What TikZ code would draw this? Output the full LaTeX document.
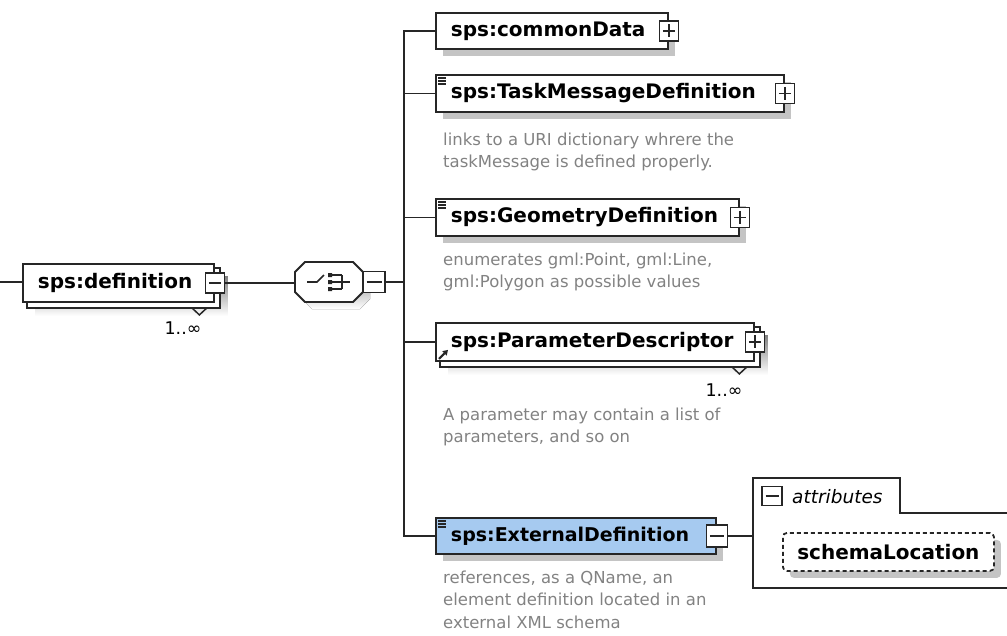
\documentclass[tikz,border=0pt]{standalone}
\usepackage{fontspec}
\setmainfont{DejaVu Sans}
\usetikzlibrary{backgrounds,shadows,arrows.meta}
\hyphenpenalty=10000
\exhyphenpenalty=10000
\definecolor{edgec}{RGB}{38,38,38}
\definecolor{shade}{RGB}{196,196,196}
\definecolor{desc}{RGB}{130,130,130}
\definecolor{selblue}{RGB}{166,202,240}
\tikzset{
  elem/.style={draw=edgec, line width=1.9pt, fill=white, anchor=north west,
    inner xsep=15pt, inner ysep=0pt, align=left,
    font=\fontsize{20}{22}\selectfont\bfseries},
  shad/.style={drop shadow={shadow xshift=7pt, shadow yshift=-7pt, fill=shade, opacity=1}},
  backbox/.style={draw=edgec, line width=1.9pt, fill=white},
  pmbox/.style={draw=edgec, line width=1.6pt, fill=white, minimum width=19pt, minimum height=20pt, inner sep=0pt},
  plusbox/.style={pmbox, path picture={
     \draw[edgec, line width=1.5pt] ([xshift=3.5pt]path picture bounding box.west) -- ([xshift=-3.5pt]path picture bounding box.east);
     \draw[edgec, line width=1.5pt] ([yshift=-3.5pt]path picture bounding box.north) -- ([yshift=3.5pt]path picture bounding box.south);}},
  minusbox/.style={pmbox, path picture={
     \draw[edgec, line width=1.5pt] ([xshift=3.5pt]path picture bounding box.west) -- ([xshift=-3.5pt]path picture bounding box.east);}},
  descr/.style={anchor=north west, inner sep=0pt, align=left, text=desc, font=\fontsize{16.5}{22}\selectfont},
  conn/.style={draw=edgec, line width=1.9pt},
  multi/.style={inner sep=0pt, font=\fontsize{17.5}{20}\selectfont},
}
\newcommand\docicon[1]{%
  \draw[edgec, line width=1.1pt] ([shift={(3,4)}]#1.north west) -- ++(8,0)
     ([shift={(3,7)}]#1.north west) -- ++(8,0)
     ([shift={(3,10)}]#1.north west) -- ++(8,0);}
\begin{document}
\begin{tikzpicture}[x=1pt,y=-1pt]
\useasboundingbox (0,0) rectangle (1007,635);

% ---------- root element ----------
\node[elem, minimum width=191pt, text width=161pt, minimum height=38pt] (def) at (22,263) {sps:definition};
\node[minusbox] (defpm) at (def.east) {};
\node[multi] (defm) at (183,328) {1..∞};

% ---------- choice compositor ----------
\node[minimum width=68pt, minimum height=40pt, inner sep=0pt] (seq) at (329,282) {};
\draw[conn, fill=white] (295,272) -- (305,262) -- (353,262) -- (363,272) -- (363,292) -- (353,302) -- (305,302) -- (295,292) -- cycle;
\draw[edgec, line width=1.6pt] ([shift={(-22,0)}]seq.center) -- ++(10,0) -- ++(7,-7);
\fill[edgec] ([shift={(-1,-9)}]seq.center) rectangle ++(4,4)
             ([shift={(-1,-2)}]seq.center) rectangle ++(4,4)
             ([shift={(-1,5)}]seq.center) rectangle ++(4,4);
\draw[edgec, line width=1.6pt] ([shift={(3,-7)}]seq.center) -- ++(10,0)
      ([shift={(3,0)}]seq.center) -- ++(18,0)
      ([shift={(3,7)}]seq.center) -- ++(10,0)
      ([shift={(13,-7)}]seq.center) -- ++(0,14);
\node[minusbox, minimum width=22pt, minimum height=21pt] (seqpm) at (374,282) {};

% ---------- children ----------
\node[elem, shad, minimum width=232pt, text width=202pt, minimum height=36pt] (cd) at (435,12) {sps:commonData};
\node[plusbox] (cdpm) at (cd.east) {};

\node[elem, shad, minimum width=348pt, text width=318pt, minimum height=37pt] (tm) at (435,74) {sps:TaskMessageDefinition};
\node[plusbox] (tmpm) at (tm.east) {};
\docicon{tm}
\node[descr] (tmd) at (443,132.5) {links to a URI dictionary whrere the\\taskMessage is defined properly.};

\node[elem, shad, minimum width=303pt, text width=273pt, minimum height=37pt] (gd) at (435,198) {sps:GeometryDefinition};
\node[plusbox] (gdpm) at (gd.east) {};
\docicon{gd}
\node[descr] (gdd) at (443,252.5) {enumerates gml:Point, gml:Line,\\gml:Polygon as possible values};

\node[elem, minimum width=318pt, text width=288pt, minimum height=38pt] (pd) at (435,322) {sps:ParameterDescriptor};
\node[plusbox] (pdpm) at (pd.east) {};
\draw[edgec, line width=2.2pt, -{Triangle[length=5pt,width=6pt]}] ([shift={(4,-3)}]pd.south west) -- ++(9,-9);
\node[multi] (pdm) at (724,390) {1..∞};
\node[descr] (pdd) at (443,407.5) {A parameter may contain a list of\\parameters, and so on};

\node[elem, shad, fill=selblue, minimum width=280pt, text width=250pt, minimum height=36pt,
      font=\fontsize{19}{22}\selectfont\bfseries] (ed) at (435,517) {sps:ExternalDefinition};
\node[minusbox, minimum height=22pt, minimum width=21pt] (edpm) at (ed.east) {};
\docicon{ed}
\node[descr, font=\fontsize{16.5}{22.5}\selectfont] (edd) at (443,570.5) {references, as a QName, an\\element definition located in an\\external XML schema};

% ---------- attributes group ----------
\coordinate (attr) at (753,535);
\draw[conn] (1012,513) -- (900,513) -- (900,478) -- (753,478) -- (753,588) -- (1012,588);
\node[minusbox, minimum width=20pt, minimum height=19pt] (attrpm) at (772,496) {};
\node[anchor=west, inner sep=0pt, font=\fontsize{18.5}{20}\selectfont\itshape] (attrl) at (792,497) {attributes};
\node[draw=edgec, line width=1.8pt, dash pattern=on 4pt off 3pt, rounded corners=4pt, fill=white, shad,
      minimum width=211pt, minimum height=38pt, anchor=north west, inner sep=0pt,
      font=\fontsize{20}{22}\selectfont\bfseries] (sl) at (782,532) {schemaLocation};

% ---------- shadows and stacked copies ----------
\begin{scope}[on background layer]
  \fill[shade] ([shift={(13,13)}]def.north west) rectangle ([shift={(13,13)}]def.south east);
  \draw[backbox] ([shift={(5,5)}]def.north west) rectangle ([shift={(5,5)}]def.south east);
  \fill[shade] ([shift={(13,13)}]pd.north west) rectangle ([shift={(13,13)}]pd.south east);
  \draw[backbox] ([shift={(5,5)}]pd.north west) rectangle ([shift={(5,5)}]pd.south east);
  \fill[shade] (302,279) -- (312,269) -- (360,269) -- (370,279) -- (370,299) -- (360,309) -- (312,309) -- (302,299) -- cycle;
\end{scope}
\draw[edgec, line width=1.5pt] ([shift={(-23,5)}]def.south east) -- ++(7.5,7) -- ++(7.5,-7);
\draw[edgec, line width=1.5pt] ([shift={(-23,5)}]pd.south east) -- ++(7.5,7) -- ++(7.5,-7);

% ---------- connectors ----------
\coordinate (lin) at (0,282);
\coordinate (tj) at (404,282);
\draw[conn] (lin) -- (lin -| def.west);
\draw[conn] (defpm.east) -- (defpm.east -| seq.west);
\draw[conn] (seqpm.east) -- (tj);
\draw[conn, line join=miter] (cd.west) -- (tj |- cd.west) -- (tj |- ed.west) -- (ed.west);
\foreach \n in {tm,gd,pd} \draw[conn] (tj |- \n.west) -- (\n.west);
\draw[conn] (edpm.east) -- (edpm.east -| attr);
\end{tikzpicture}
\end{document}
